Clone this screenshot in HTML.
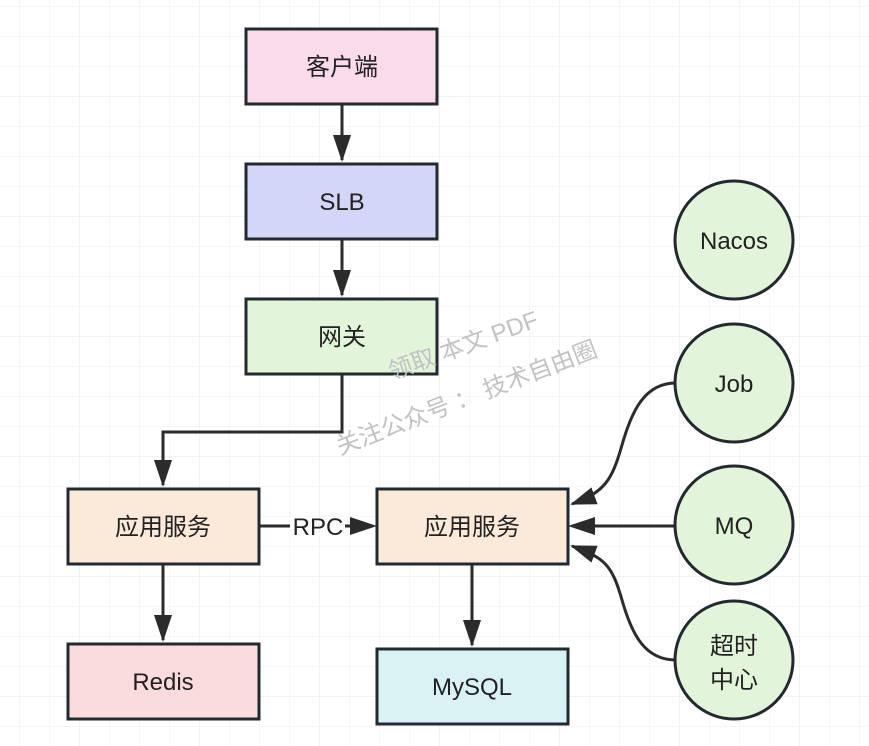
<!DOCTYPE html>
<html><head><meta charset="utf-8"><style>
html,body{margin:0;padding:0;background:#fff;}
svg{display:block;font-family:"Liberation Sans","Noto Sans CJK SC",sans-serif;}
</style></head><body>
<svg width="869" height="746" viewBox="0 0 869 746" xmlns="http://www.w3.org/2000/svg">
<defs>
<pattern id="g" x="19.5" y="6" width="30" height="30" patternUnits="userSpaceOnUse">
<path d="M0 0V30M0 0H30" stroke="#efefef" stroke-width="1" fill="none"/>
</pattern>
<pattern id="G" x="79.5" y="96" width="120" height="120" patternUnits="userSpaceOnUse">
<path d="M0 0V120M0 0H120" stroke="#e4e4e4" stroke-width="1" fill="none"/>
</pattern>
<marker id="a" markerWidth="28" markerHeight="20" refX="24" refY="10" orient="auto" markerUnits="userSpaceOnUse"><path d="M0 1L26 10L0 19Z" fill="#2b2b2b"/></marker>
</defs>
<rect width="869" height="746" fill="url(#g)"/>
<rect width="869" height="746" fill="url(#G)"/>
<g stroke="#2b2b2b" stroke-width="3" fill="none">
<path d="M342 104V160"/><path d="M342 239V295"/>
<path d="M342 374V432H163V485"/>
<path d="M163 564V640"/><path d="M472 564V645"/>
<path d="M259 526H290"/><path d="M345 526H373"/>
<path d="M674 526H573"/>
<path d="M676 383C645 383 632 410 622 445S605 492 572 504" marker-end="url(#a)"/>
<path d="M676 660C645 660 632 635 622 600S605 558 572 546" marker-end="url(#a)"/>
</g>
<g fill="#2b2b2b">
<path d="M333 135L351 135L342 162Z"/>
<path d="M333 270L351 270L342 297Z"/>
<path d="M154 460L172 460L163 487Z"/>
<path d="M154 615L172 615L163 642Z"/>
<path d="M463 620L481 620L472 647Z"/>
<path d="M350 517L350 535L377 526Z"/>
<path d="M595 517L595 535L568 526Z"/>
</g>
<g stroke="#222a30" stroke-width="3">
<rect x="246" y="29" width="191" height="75" fill="#f9dbeb"/>
<rect x="246" y="164" width="191" height="75" fill="#d3d6f7"/>
<rect x="246" y="299" width="191" height="75" fill="#e2f5da"/>
<rect x="68" y="489" width="191" height="75" fill="#fbe9da"/>
<rect x="377" y="489" width="191" height="75" fill="#fbe9da"/>
<rect x="68" y="644" width="191" height="75" fill="#f9dcdb"/>
<rect x="377" y="649" width="191" height="75" fill="#d9f3f4"/>
<circle cx="734" cy="240" r="59" fill="#e2f5da"/>
<circle cx="734" cy="383" r="59" fill="#e2f5da"/>
<circle cx="734" cy="525" r="59" fill="#e2f5da"/>
<circle cx="734" cy="660" r="59" fill="#e2f5da"/>
</g>
<g font-size="24" fill="#222" text-anchor="middle">
<text x="342" y="75">客户端</text>
<text x="342" y="210">SLB</text>
<text x="342" y="345">网关</text>
<text x="163" y="535">应用服务</text>
<text x="472" y="535">应用服务</text>
<text x="163" y="690">Redis</text>
<text x="472" y="695">MySQL</text>
<text x="318" y="535">RPC</text>
<text x="734" y="249">Nacos</text>
<text x="734" y="392">Job</text>
<text x="734" y="534">MQ</text>
<text x="734" y="654">超时</text>
<text x="734" y="688">中心</text>
</g>
<g font-size="24" fill="#c2c2c2">
<text x="0" y="0" transform="translate(392 380) rotate(-20)">领取 本文 PDF</text>
<text x="0" y="0" transform="translate(340 455) rotate(-21)">关注公众号 ：  技术自由圈</text>
</g>
</svg>
</body></html>
